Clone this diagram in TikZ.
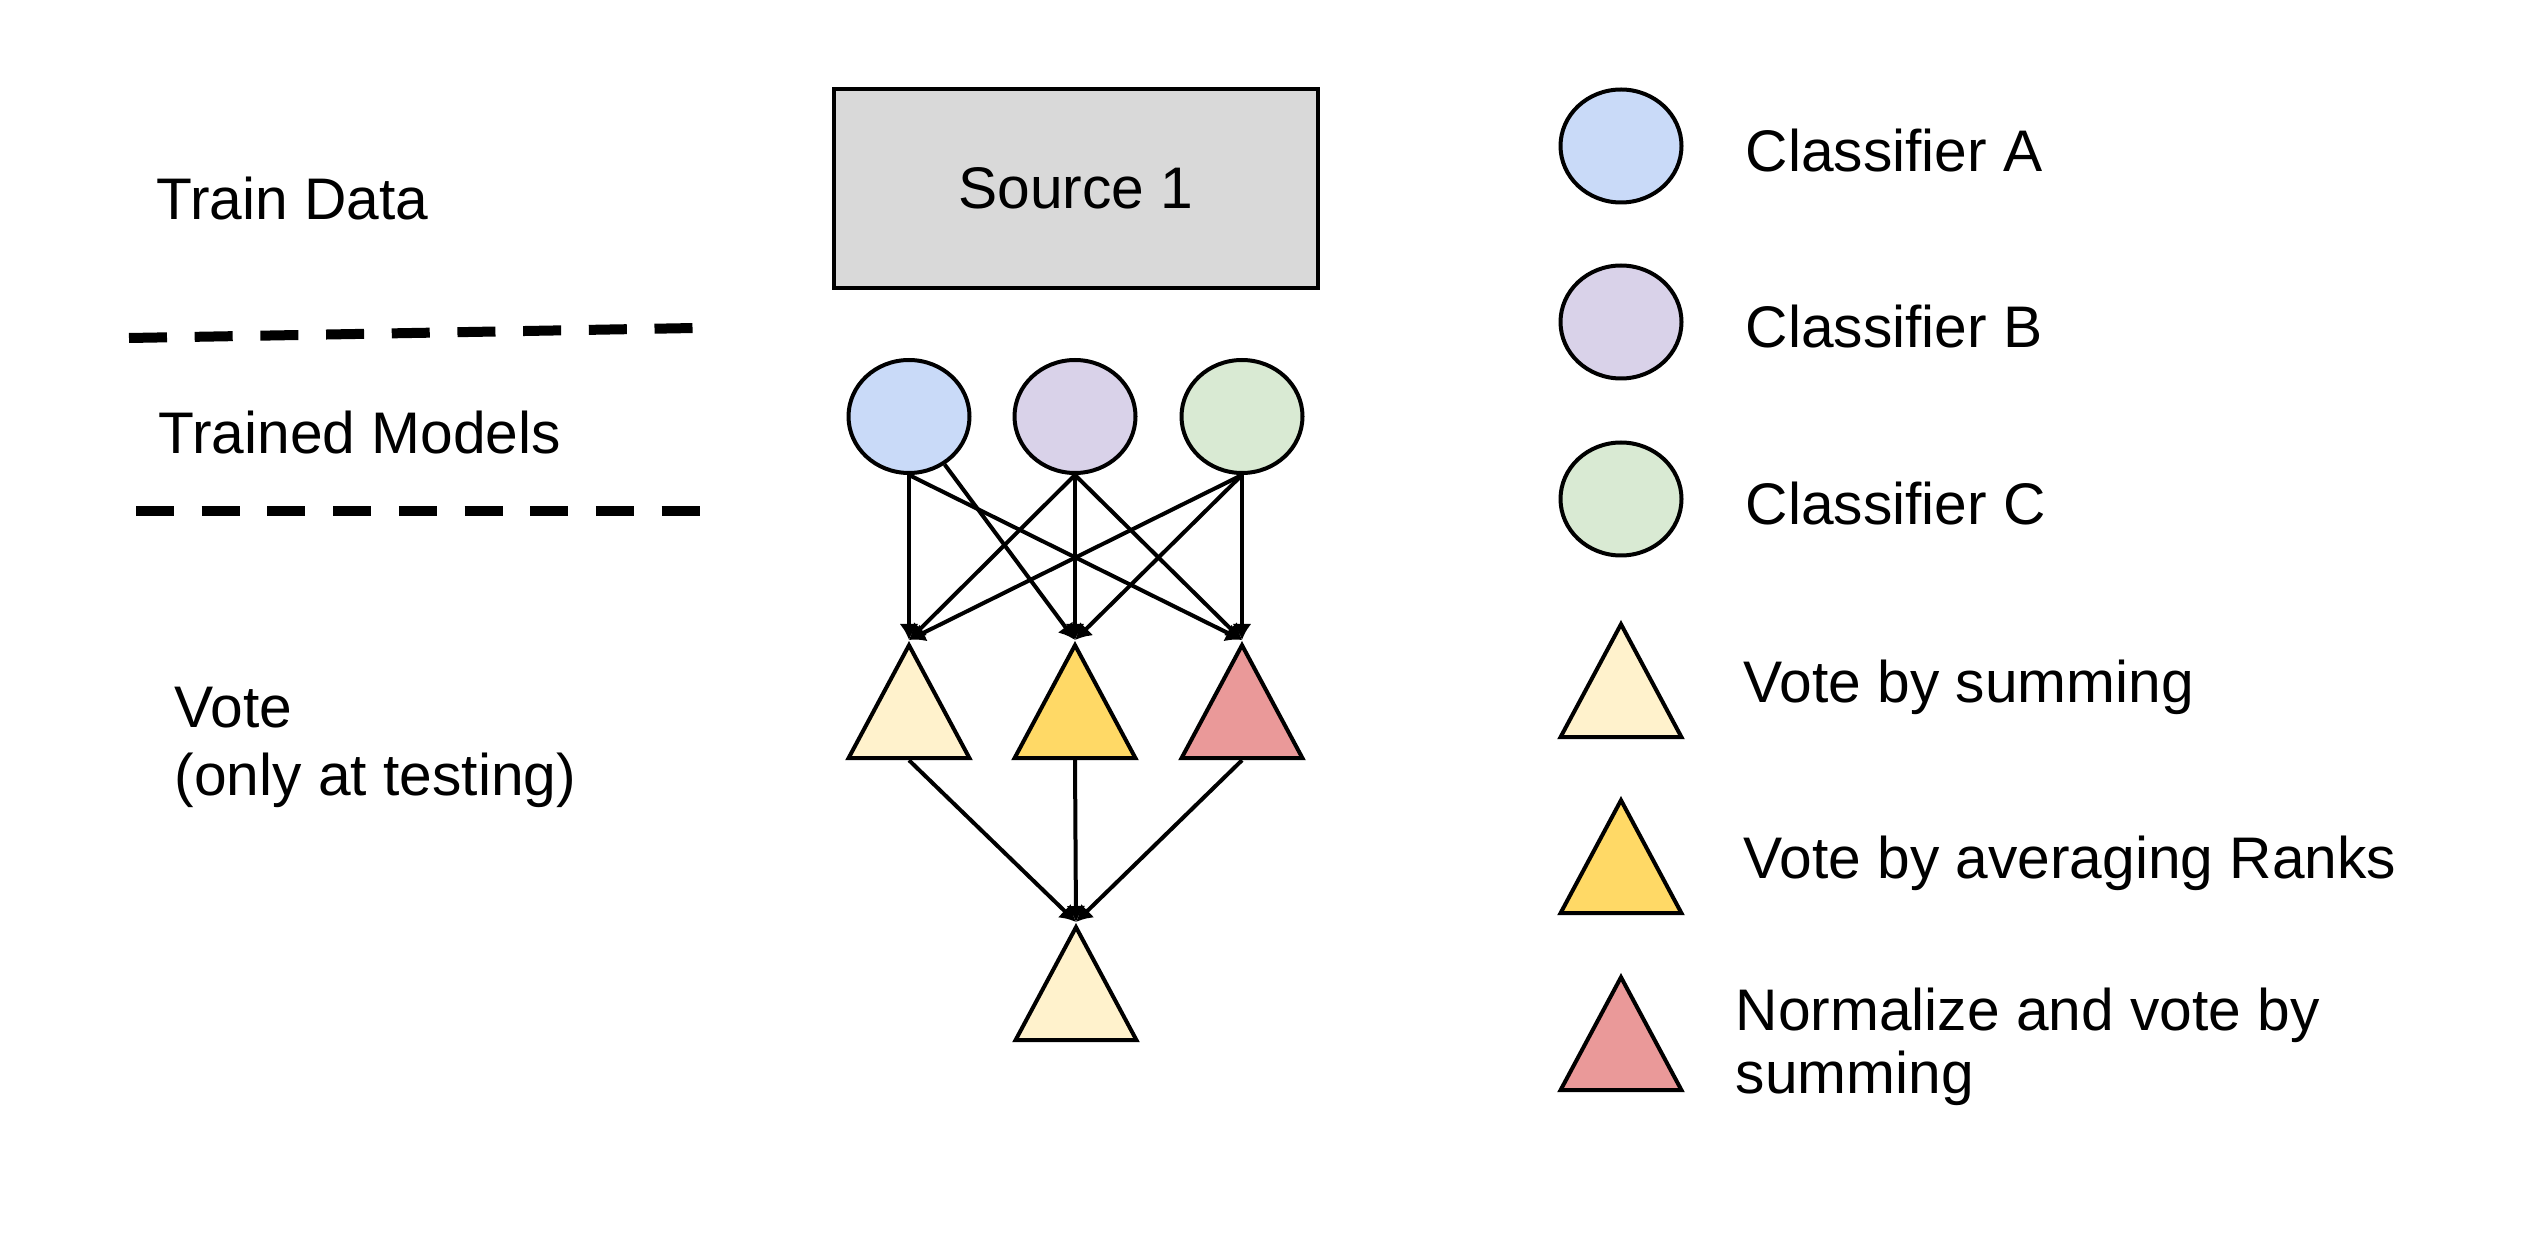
\documentclass[tikz,border=0pt]{standalone}
\usepackage{fontspec}
\setmainfont{Liberation Sans}
\usetikzlibrary{arrows.meta,shapes.geometric}

\definecolor{srcgray}{HTML}{D9D9D9}
\definecolor{clsa}{HTML}{C9DAF8}
\definecolor{clsb}{HTML}{D9D2E9}
\definecolor{clsc}{HTML}{D9EAD3}
\definecolor{votesum}{HTML}{FFF2CC}
\definecolor{voterank}{HTML}{FFD966}
\definecolor{votenorm}{HTML}{EA9999}

\begin{document}
\begin{tikzpicture}
        [
            x=1cm, y=-1cm,
            txt/.style={inner sep=0, font=\fontsize{16.7}{19.6}\selectfont},
            src/.style={rectangle, draw, line width=0.04cm, fill=srcgray, minimum width=4.84cm, minimum height=1.99cm, inner sep=0, font=\fontsize{16.7}{19.6}\selectfont},
            model/.style={ellipse, draw, line width=0.04cm, minimum width=1.21cm, minimum height=1.13cm, inner sep=0},
            voter/.style={isosceles triangle, isosceles triangle stretches, shape border rotate=90, draw, line width=0.04cm, minimum width=1.21cm, minimum height=1.13cm, inner sep=0, anchor=apex},
            conn/.style={-{Latex[length=0.16cm, width=0.19cm]}, line width=0.04cm},
            sep/.style={line width=0.1cm, dash pattern=on 0.38cm off 0.277cm}
        ]
        \useasboundingbox (0, 0) rectangle (25.25, 12.33);

        % left column
        \node[txt, anchor=base west] (train) at (1.56, 2.20) {Train Data};
        \node[txt, anchor=base west] (trained) at (1.58, 4.54) {Trained Models};
        \node[txt, anchor=north west, align=left] (vote) at (1.74, 6.86) {Vote\\(only at testing)};
        \draw[sep] (1.29, 3.38) -- (6.95, 3.28);
        \draw[sep] (1.36, 5.11) -- (7.02, 5.11);

        % ensemble
        \node[src] (source) at (10.76, 1.885) {Source 1};
        \node[model, fill=clsa] (ca) at (9.09, 4.165) {};
        \node[model, fill=clsb] (cb) at (10.75, 4.165) {};
        \node[model, fill=clsc] (cc) at (12.42, 4.165) {};
        \node[voter, fill=votesum] (ta) at (9.09, 6.40) {};
        \node[voter, fill=voterank] (tb) at (10.75, 6.40) {};
        \node[voter, fill=votenorm] (tc) at (12.42, 6.40) {};
        \node[voter, fill=votesum] (tf) at (10.76, 9.22) {};

        \path[conn]
        (ca.south) edge (ta.apex)
        (ca) edge (tb.apex)
        (ca.south) edge (tc.apex)
        (cb.south) edge (ta.apex)
        (cb.south) edge (tb.apex)
        (cb.south) edge (tc.apex)
        (cc.south) edge (ta.apex)
        (cc.south) edge (tb.apex)
        (cc.south) edge (tc.apex)
        (ta.lower side) edge (tf.apex)
        (tb.lower side) edge (tf.apex)
        (tc.lower side) edge (tf.apex);

        % legend
        \node[model, fill=clsa] (keya) at (16.21, 1.46) {};
        \node[model, fill=clsb] (keyb) at (16.21, 3.22) {};
        \node[model, fill=clsc] (keyc) at (16.21, 4.99) {};
        \node[voter, fill=votesum] (keysum) at (16.21, 6.19) {};
        \node[voter, fill=voterank] (keyrank) at (16.21, 7.95) {};
        \node[voter, fill=votenorm] (keynorm) at (16.21, 9.72) {};
        \node[txt, anchor=base west] (texta) at (17.45, 1.72) {Classifier A};
        \node[txt, anchor=base west] (textb) at (17.45, 3.48) {Classifier B};
        \node[txt, anchor=base west] (textc) at (17.45, 5.25) {Classifier C};
        \node[txt, anchor=base west] (textsum) at (17.43, 7.02) {Vote by summing};
        \node[txt, anchor=base west] (textrank) at (17.43, 8.78) {Vote by averaging Ranks};
        \node[txt, anchor=north west, align=left, font=\fontsize{16.7}{17.9}\selectfont] (textnorm) at (17.35, 9.87) {Normalize and vote by\\summing};

    \end{tikzpicture}
\end{document}
